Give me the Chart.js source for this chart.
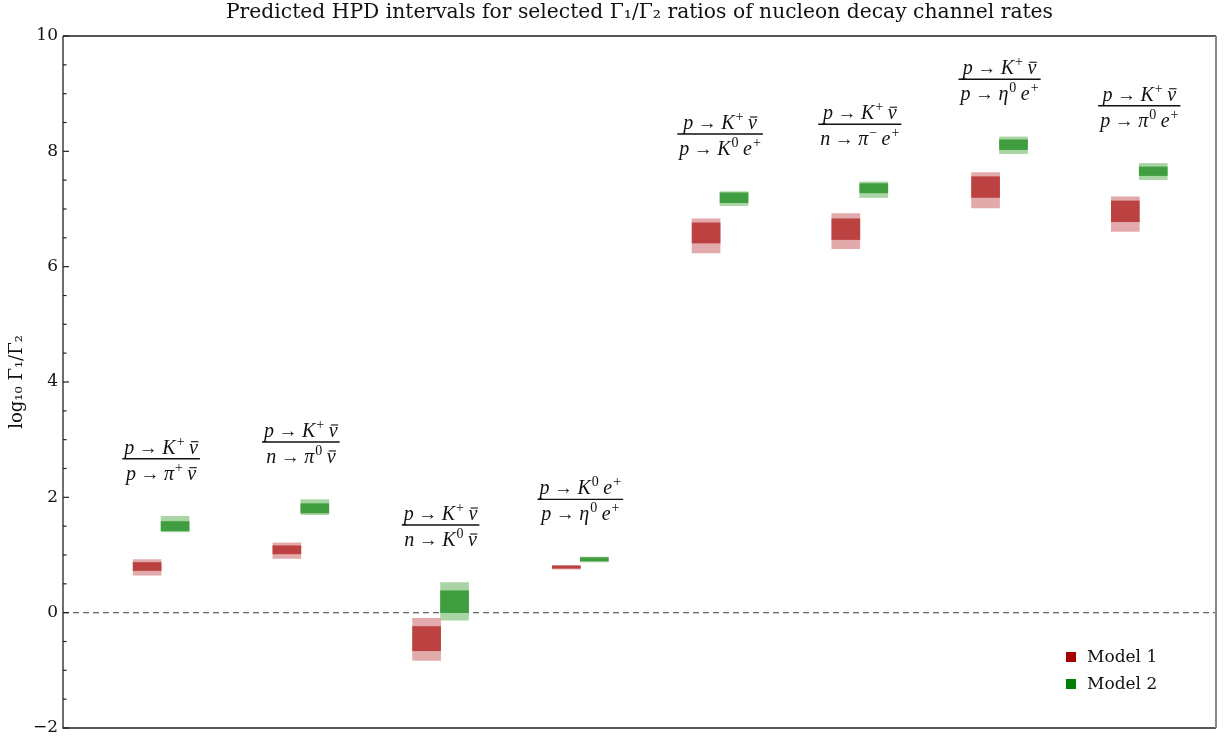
<!DOCTYPE html>
<html>
<head>
<meta charset="utf-8">
<script src="https://cdn.jsdelivr.net/npm/chart.js@4"></script>
<style>
html,body{margin:0;padding:0;background:#fff;}
#wrap{width:1227px;height:738px;}
</style>
</head>
<body>
<div id="wrap"><canvas id="c" width="1227" height="738"></canvas></div>
<script>
// ---- data ----
const groupX = [1, 2, 3, 4, 5, 6, 7, 8];
const numerators = ['p → K⁺ ν̄','p → K⁺ ν̄','p → K⁺ ν̄','p → K⁰ e⁺','p → K⁺ ν̄','p → K⁺ ν̄','p → K⁺ ν̄','p → K⁺ ν̄'];
const denominators = ['p → π⁺ ν̄','n → π⁰ ν̄','n → K⁰ ν̄','p → η⁰ e⁺','p → K⁰ e⁺','n → π⁻ e⁺','p → η⁰ e⁺','p → π⁰ e⁺'];
const model1Outer = [[0.65,0.92],[0.94,1.21],[-0.83,-0.10],[0.755,0.82],[6.24,6.83],[6.31,6.92],[7.02,7.63],[6.61,7.21]];
const model1Inner = [[0.73,0.87],[1.02,1.16],[-0.66,-0.24],[0.77,0.81],[6.41,6.76],[6.47,6.83],[7.20,7.56],[6.78,7.14]];
const model2Outer = [[1.40,1.67],[1.70,1.96],[-0.13,0.52],[0.88,0.965],[7.06,7.30],[7.20,7.47],[7.96,8.25],[7.51,7.79]];
const model2Inner = [[1.42,1.58],[1.73,1.89],[0.00,0.38],[0.896,0.954],[7.11,7.28],[7.28,7.44],[8.03,8.20],[7.58,7.73]];
const seriesNames = ['Model 1','Model 2'];
const yTickLabels = [-2, 0, 2, 4, 6, 8, 10];
const titleText = 'Predicted HPD intervals for selected Γ₁/Γ₂ ratios of nucleon decay channel rates';

const OFF = 0.1;
const pts = (arr, shift) => arr.map((r, i) => ({x: groupX[i] + shift, y: r}));

const SERIF = '"DejaVu Serif", serif';
const MACRON = '\u0304';
const SUP = {'⁺': '+', '⁻': '−', '⁰': '0'};
const F_IT = 'italic 20px "Liberation Serif", serif';
const F_UP = '19px "Liberation Serif", serif';
const F_SUP = '14px "Liberation Serif", serif';

function pieces(ctx, s) {
  const out = [];
  const chars = Array.from(s);
  for (let k = 0; k < chars.length; k++) {
    const c = chars[k];
    if (c === MACRON) { if (out.length) out[out.length - 1].bar = true; continue; }
    let p;
    if (c === ' ') p = {t: '', font: F_IT, dy: 0, w: 4.5};
    else if (SUP[c]) p = {t: SUP[c], font: F_SUP, dy: -8, gap: 1};
    else if (c === '→') p = {t: '→', font: F_UP, dy: 0};
    else p = {t: c, font: F_IT, dy: 0};
    if (p.w === undefined) { ctx.font = p.font; p.w = ctx.measureText(p.t).width + (p.gap || 0); }
    out.push(p);
  }
  return out;
}
function drawFormula(ctx, s, cx, base) {
  const ps = pieces(ctx, s);
  const total = ps.reduce((a, p) => a + p.w, 0);
  let x = cx - total / 2;
  ctx.textAlign = 'left';
  ctx.textBaseline = 'alphabetic';
  ps.forEach(p => {
    if (p.t) {
      ctx.font = p.font;
      ctx.fillText(p.t, x + (p.gap || 0), base + p.dy);
      if (p.bar) {
        ctx.save();
        ctx.lineWidth = 1.1;
        ctx.beginPath();
        ctx.moveTo(x + 2, base - 12);
        ctx.lineTo(x + p.w + 0.5, base - 12);
        ctx.stroke();
        ctx.restore();
      }
    }
    x += p.w;
  });
  return total;
}

const decor = {
  id: 'decor',
  beforeDatasetsDraw(chart) {
    const {ctx, chartArea: a, scales: {y}} = chart;
    ctx.save();
    const y0 = y.getPixelForValue(0);
    ctx.strokeStyle = '#666';
    ctx.lineWidth = 1.3;
    ctx.setLineDash([6, 4]);
    ctx.beginPath(); ctx.moveTo(a.left, y0); ctx.lineTo(a.right, y0); ctx.stroke();
    ctx.restore();
  },
  afterDraw(chart) {
    const {ctx, chartArea: a, scales: {x, y}} = chart;
    ctx.save();
    ctx.fillStyle = '#111';
    ctx.font = '20.3px ' + SERIF;
    ctx.textAlign = 'center';
    ctx.textBaseline = 'middle';
    ctx.fillText(titleText, (a.left + a.right) / 2, 13);
    ctx.setLineDash([]);
    ctx.lineWidth = 1.3;
    ctx.strokeStyle = '#222';
    ctx.beginPath();
    ctx.moveTo(a.left, a.top); ctx.lineTo(a.right, a.top);
    ctx.moveTo(a.left, a.top); ctx.lineTo(a.left, a.bottom);
    ctx.lineTo(a.right, a.bottom);
    ctx.stroke();
    ctx.strokeStyle = '#888';
    ctx.lineWidth = 2;
    ctx.beginPath(); ctx.moveTo(a.right, a.top); ctx.lineTo(a.right, a.bottom); ctx.stroke();
    ctx.strokeStyle = '#222';
    ctx.lineWidth = 1.2;
    y.ticks.forEach(t => {
      const py = y.getPixelForValue(t.value);
      const major = Math.abs(t.value % 2) < 1e-9;
      ctx.beginPath(); ctx.moveTo(a.left, py); ctx.lineTo(a.left + (major ? 6 : 3.5), py); ctx.stroke();
    });
    ctx.fillStyle = '#111';
    ctx.strokeStyle = '#111';
    groupX.forEach((g, i) => {
      const top = Math.max(model1Outer[i][1], model2Outer[i][1]);
      const px = x.getPixelForValue(g);
      const ly = y.getPixelForValue(top + 1.0);
      const w1 = drawFormula(ctx, numerators[i], px, ly - 5);
      const w2 = drawFormula(ctx, denominators[i], px, ly + 21);
      const w = Math.max(w1, w2) + 4;
      ctx.lineWidth = 1.4;
      ctx.beginPath(); ctx.moveTo(px - w / 2, ly); ctx.lineTo(px + w / 2, ly); ctx.stroke();
    });
    const legCols = ['#a50000', '#007f00'];
    ctx.font = '17px ' + SERIF;
    ctx.textAlign = 'left';
    ctx.textBaseline = 'middle';
    seriesNames.forEach((n, i) => {
      const ly = a.bottom - 71 + i * 27;
      ctx.fillStyle = legCols[i];
      ctx.fillRect(a.right - 150, ly - 5, 10, 10);
      ctx.fillStyle = '#111';
      ctx.fillText(n, a.right - 129, ly + 1);
    });
    ctx.restore();
  }
};

const RED_D = '#bc4242', RED_L = '#e2aaaa', GRN_D = '#409d40', GRN_L = '#a9d4a3';

new Chart(document.getElementById('c'), {
  type: 'bar',
  data: {
    datasets: [
      {label: seriesNames[0] + ' inner', data: pts(model1Inner, -OFF), backgroundColor: RED_D, order: 0},
      {label: seriesNames[1] + ' inner', data: pts(model2Inner, OFF), backgroundColor: GRN_D, order: 0},
      {label: seriesNames[0] + ' outer', data: pts(model1Outer, -OFF), backgroundColor: RED_L, order: 1},
      {label: seriesNames[1] + ' outer', data: pts(model2Outer, OFF), backgroundColor: GRN_L, order: 1}
    ]
  },
  options: {
    responsive: false,
    animation: false,
    devicePixelRatio: 1,
    layout: {padding: {left: 0, right: 11, top: 36, bottom: 10}},
    datasets: {bar: {grouped: false, barThickness: 28, borderWidth: 0, borderSkipped: false}},
    scales: {
      x: {
        type: 'linear', min: 0.298, max: 8.549, display: false, offset: false
      },
      y: {
        min: -2, max: 10,
        afterFit(s) { s.width = 63; s.paddingTop = 0; s.paddingBottom = 0; },
        border: {display: false},
        grid: {display: false, drawTicks: false},
        ticks: {
          stepSize: 0.5, autoSkip: false, padding: 5,
          color: '#111',
          font: {family: SERIF, size: 17},
          callback: v => (yTickLabels.includes(v) ? String(v).replace('-', '−') : '')
        },
        title: {
          display: true, text: 'log₁₀ Γ₁/Γ₂', color: '#111',
          font: {family: SERIF, size: 18}, padding: {top: 7, bottom: 0}
        }
      }
    },
    plugins: {
      legend: {display: false},
      tooltip: {enabled: false},
      title: {display: false}
    }
  },
  plugins: [decor]
});
</script>
</body>
</html>
